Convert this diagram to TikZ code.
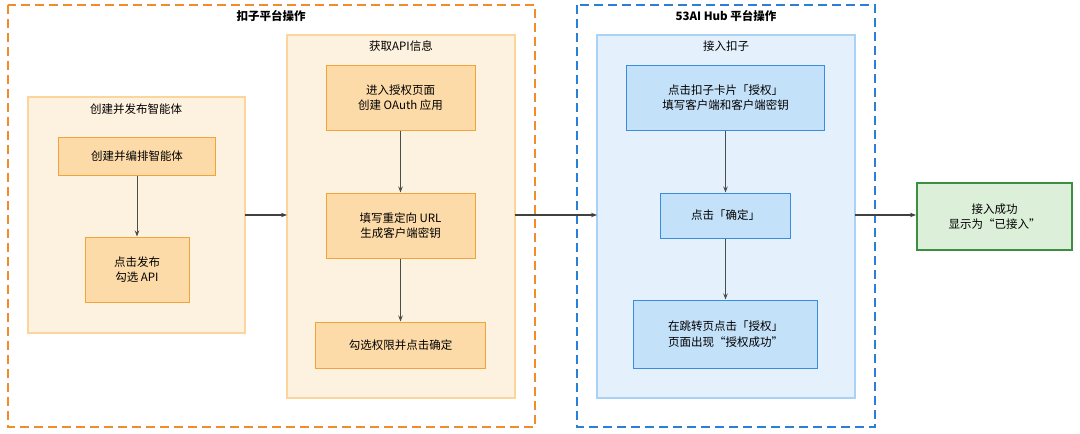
\documentclass[tikz,border=0pt]{standalone}
\usepackage{fontspec}
\setmainfont{Noto Sans CJK SC}
\usetikzlibrary{arrows.meta}
\definecolor{oD}{HTML}{F08C2A}
\definecolor{bD}{HTML}{2B7FD6}
\definecolor{oGb}{HTML}{FCD59C}
\definecolor{oGf}{HTML}{FDF1DF}
\definecolor{oNb}{HTML}{F2A43A}
\definecolor{oNf}{HTML}{FDDBA8}
\definecolor{bGb}{HTML}{A9D2F5}
\definecolor{bGf}{HTML}{E4F1FD}
\definecolor{bNb}{HTML}{3A8CDE}
\definecolor{bNf}{HTML}{C4E1FA}
\definecolor{gB}{HTML}{3E8E41}
\definecolor{gF}{HTML}{DCEFD8}
\begin{document}
\begin{tikzpicture}[x=1pt,y=-1pt,font=\fontsize{11.5}{15.5}\selectfont,
 outerO/.style={draw=oD,line width=2pt,dash pattern=on 9pt off 5pt},
 outerB/.style={draw=bD,line width=2pt,dash pattern=on 9pt off 5pt},
 grpO/.style={draw=oGb,fill=oGf,line width=1.5pt},
 grpB/.style={draw=bGb,fill=bGf,line width=1.5pt},
 nO/.style={draw=oNb,fill=oNf,line width=1pt,align=center},
 nB/.style={draw=bNb,fill=bNf,line width=1pt,align=center},
 nG/.style={draw=gB,fill=gF,line width=2pt,align=center},
 arr/.style={-{Stealth[length=6pt]},draw=black!70,line width=1pt},
 arrB/.style={-{Stealth[length=6pt]},draw=black!75,line width=1.6pt}]
\useasboundingbox (0,0) rectangle (1080,434);
\draw[outerO] (8,5) rectangle (535,427);
\draw[outerB] (577,5) rectangle (875,427);
\node[font=\fontsize{11.5}{15}\selectfont\bfseries] (t1) at (271,16) {扣子平台操作};
\node[font=\fontsize{11.5}{15}\selectfont\bfseries] (t2) at (726,16) {53AI Hub 平台操作};
\draw[grpO] (28,97) rectangle (245,333);
\node (g1t) at (136,109) {创建并发布智能体};
\draw[grpO] (287,35) rectangle (515,398);
\node (g2t) at (401,46) {获取API信息};
\draw[grpB] (597,35) rectangle (855,398);
\node (g3t) at (726,46) {接入扣子};
\node[nO,minimum width=157pt,minimum height=38pt] (a1) at (137,156) {创建并编排智能体};
\node[nO,minimum width=104pt,minimum height=65pt] (a2) at (137,269.5) {点击发布\\勾选 API};
\node[nO,minimum width=149pt,minimum height=65pt] (b1) at (400.5,97.5) {进入授权页面\\创建 OAuth 应用};
\node[nO,minimum width=149pt,minimum height=65pt] (b2) at (400.5,225.5) {填写重定向 URL\\生成客户端密钥};
\node[nO,minimum width=170pt,minimum height=46pt] (b3) at (400.5,345) {勾选权限并点击确定};
\node[nB,minimum width=198pt,minimum height=65pt] (c1) at (725.5,97.5) {点击扣子卡片「授权」\\填写客户端和客户端密钥};
\node[nB,minimum width=130pt,minimum height=45pt] (c2) at (725.5,215.5) {点击「确定」};
\node[nB,minimum width=184pt,minimum height=68pt] (c3) at (725.5,334) {在跳转页点击「授权」\\页面出现“授权成功”};
\node[nG,minimum width=155pt,minimum height=67pt] (d) at (994.5,216.5) {接入成功\\显示为“已接入”};
\draw[arr] (a1) -- (a2);
\draw[arr] (b1) -- (b2);
\draw[arr] (b2) -- (b3);
\draw[arr] (c1) -- (c2);
\draw[arr] (c2) -- (c3);
\coordinate (p1) at (245,215); \coordinate (p2) at (287,215);
\coordinate (p3) at (515,215); \coordinate (p4) at (597,215);
\coordinate (p5) at (855,215);
\draw[arrB] (p1) -- (p2);
\draw[arrB] (p3) -- (p4);
\draw[arrB] (p5) -- (d.west|-p5);
\end{tikzpicture}
\end{document}
